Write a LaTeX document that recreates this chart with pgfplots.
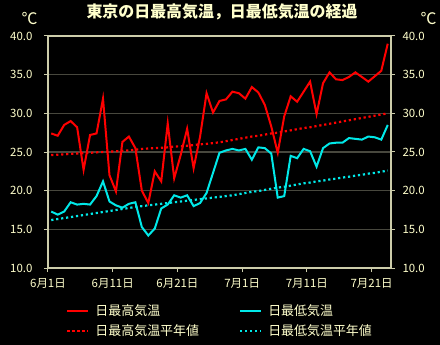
\documentclass[border=0pt]{standalone}
\usepackage{fontspec}
\setmainfont{Noto Sans CJK JP}
\usepackage{pgfplots}
\usepackage{pgfplotstable}
\pgfplotsset{compat=1.18}
\definecolor{txt}{RGB}{255,255,204}
\definecolor{axcol}{RGB}{204,204,170}
\definecolor{gridc}{RGB}{72,72,62}
\definecolor{redl}{RGB}{255,0,0}
\definecolor{cyanl}{RGB}{0,232,232}

\pgfplotstableread{
x tmax tmin nmax nmin
0.5 27.4 17.3 24.60 16.20
1.5 27.1 16.9 24.65 16.33
2.5 28.5 17.3 24.70 16.46
3.5 29.0 18.5 24.75 16.59
4.5 28.2 18.2 24.80 16.72
5.5 22.7 18.3 24.85 16.85
6.5 27.2 18.2 24.90 16.98
7.5 27.4 19.3 24.95 17.11
8.5 31.9 21.2 25.00 17.24
9.5 22.0 18.6 25.05 17.37
10.5 19.9 18.1 25.10 17.50
11.5 26.3 17.8 25.15 17.63
12.5 27.0 18.3 25.20 17.76
13.5 25.5 18.5 25.30 17.89
14.5 20.0 15.3 25.40 18.00
15.5 18.4 14.2 25.45 18.10
16.5 22.5 15.1 25.50 18.20
17.5 21.2 17.7 25.55 18.30
18.5 28.7 18.2 25.60 18.40
19.5 21.6 19.4 25.70 18.50
20.5 24.6 19.1 25.75 18.60
21.5 28.0 19.4 25.80 18.70
22.5 22.9 18.0 25.90 18.80
23.5 27.0 18.4 26.00 18.90
24.5 32.6 19.7 26.05 19.00
25.5 30.1 22.3 26.15 19.10
26.5 31.6 24.9 26.25 19.20
27.5 31.8 25.2 26.40 19.30
28.5 32.8 25.4 26.55 19.40
29.5 32.6 25.2 26.70 19.55
30.5 31.9 25.4 26.85 19.70
31.5 33.4 24.0 27.00 19.85
32.5 32.7 25.6 27.10 19.95
33.5 31.1 25.5 27.25 20.10
34.5 28.3 24.8 27.40 20.25
35.5 24.9 19.1 27.50 20.40
36.5 29.6 19.3 27.65 20.50
37.5 32.2 24.5 27.80 20.65
38.5 31.5 24.2 27.95 20.80
39.5 32.8 25.4 28.10 20.95
40.5 34.1 25.1 28.20 21.05
41.5 29.9 23.1 28.35 21.20
42.5 33.9 25.5 28.50 21.30
43.5 35.3 26.1 28.65 21.45
44.5 34.4 26.2 28.80 21.55
45.5 34.3 26.2 28.95 21.70
46.5 34.7 26.8 29.10 21.80
47.5 35.3 26.7 29.25 21.95
48.5 34.7 26.6 29.40 22.05
49.5 34.1 27.0 29.55 22.20
50.5 34.8 26.9 29.70 22.30
51.5 35.5 26.6 29.85 22.45
52.5 39.0 28.5 30.00 22.60
}\data

\begin{document}
\begin{tikzpicture}
\path[fill=black, use as bounding box] (-48bp,-77bp) rectangle (392bp,268bp);
\begin{axis}[
  at={(0,0)}, anchor=south west, scale only axis,
  width=343bp, height=232bp,
  xmin=0, xmax=53, ymin=10, ymax=40,
  xtick={0,10,20,30,40,50},
  xticklabels={6月1日,6月11日,6月21日,7月1日,7月11日,7月21日},
  ytick={10,15,20,25,30,35,40},
  yticklabel={\pgfmathprintnumber[fixed,fixed zerofill,precision=1,assume math mode=true]{\tick}},
  ymajorgrids, grid style={gridc, line width=1.3bp},
  axis line style={axcol, line width=1.3bp},
  tick style={axcol, line width=1bp},
  tick align=outside, major tick length=4bp,
  xtick pos=bottom, ytick pos=left,
  ticklabel style={txt, font=\fontsize{11.5}{13}\selectfont},
  yticklabel style={xshift=-8bp},
  xticklabel style={yshift=-3bp},
  title={東京の日最高気温，日最低気温の経過},
  title style={at={(0.5,1)}, anchor=center, xshift=2.5bp, yshift=18.5bp, txt, font=\fontsize{16}{18}\selectfont\bfseries},
  legend columns=2,
  legend image code/.code={\draw[#1] (0bp,0bp) -- (21bp,0bp); \path (25bp,0bp);},
  legend style={at={(axis description cs:0.044,-0.14)}, anchor=north west,
    draw=none, fill=none, text=txt, font=\fontsize{13}{15}\selectfont,
    row sep=4bp,
    /tikz/every even column/.append style={column sep=38bp}},
  legend cell align=left,
]
\addplot[redl, line width=2bp] table[x=x, y=tmax] {\data};
\addlegendentry{日最高気温}
\addplot[cyanl, line width=2bp] table[x=x, y=tmin] {\data};
\addlegendentry{日最低気温}
\addplot[redl, line width=2.2bp, dash pattern=on 2.2bp off 2.8bp] table[x=x, y=nmax] {\data};
\addlegendentry{日最高気温平年値}
\addplot[cyanl, line width=2.2bp, dash pattern=on 2.2bp off 2.8bp] table[x=x, y=nmin] {\data};
\addlegendentry{日最低気温平年値}
\end{axis}
\begin{axis}[
  at={(0,0)}, anchor=south west, scale only axis,
  width=343bp, height=232bp,
  xmin=0, xmax=53, ymin=10, ymax=40,
  hide x axis, axis y line*=right,
  ytick={10,15,20,25,30,35,40},
  yticklabel={\pgfmathprintnumber[fixed,fixed zerofill,precision=1,assume math mode=true]{\tick}},
  axis line style={axcol, line width=1.3bp},
  tick style={axcol, line width=1bp},
  tick align=outside, major tick length=4bp,
  ticklabel style={txt, font=\fontsize{11.5}{13}\selectfont},
  yticklabel style={xshift=4bp},
]
\end{axis}
\node[txt, font=\fontsize{16}{18}\selectfont] at (-18.5bp,249bp) {℃};
\node[txt, font=\fontsize{16}{18}\selectfont] at (380.5bp,249bp) {℃};
\end{tikzpicture}
\end{document}
